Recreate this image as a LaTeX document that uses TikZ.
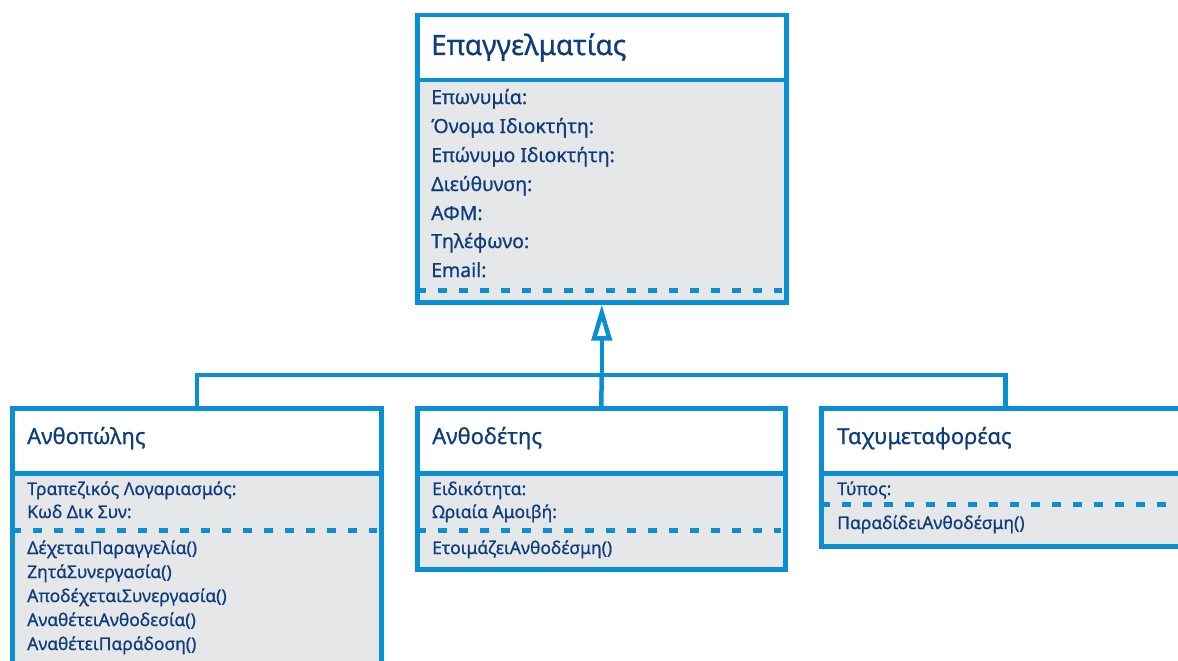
\documentclass[tikz,border=0pt]{standalone}
\usepackage{fontspec}
\setmainfont{Noto Sans}[BoldFont={Noto Sans}, BoldFeatures={FakeBold=0.8}]
\usetikzlibrary{arrows.meta}
\definecolor{umlblue}{HTML}{0A8FD4}
\definecolor{umltext}{HTML}{0D3D7D}
\definecolor{umlfill}{HTML}{E6E7E9}
\begin{document}
\begin{tikzpicture}[x=1pt,y=-1pt,
  hdr/.style={draw=umlblue, line width=4.5pt, fill=white, anchor=north west, inner sep=0pt},
  bdy/.style={draw=umlblue, line width=4.5pt, fill=umlfill, anchor=north west, inner sep=0pt},
  sepline/.style={draw=umlblue, line width=5pt, dash pattern=on 9pt off 12pt},
  conn/.style={draw=umlblue, line width=4.5pt},
  bigttl/.style={text=umltext, anchor=base west, inner sep=0pt, font=\fontsize{28}{30}\selectfont\bfseries},
  bigtxt/.style={text=umltext, anchor=base west, inner sep=0pt, font=\fontsize{19.5}{22}\selectfont\bfseries},
  ttl/.style={text=umltext, anchor=base west, inner sep=0pt, font=\fontsize{22}{24}\selectfont\bfseries},
  txt/.style={text=umltext, anchor=base west, inner sep=0pt, font=\fontsize{17.5}{19}\selectfont\bfseries}]
\useasboundingbox (0,0) rectangle (1178,661);
\clip (0,0) rectangle (1178,661);
\fill[white] (0,0) rectangle (1178,661);
% top class
\node[bdy, minimum width=369pt, minimum height=222pt] (Pb) at (415,78) {};
\node[hdr, minimum width=369pt, minimum height=65pt] (Ph) at (415,13) {};
\coordinate (PdL) at (417,290);
\coordinate (PdR) at (782,290);
\draw[sepline] (PdL) -- (PdR);
\node[bigttl] (Pt) at (431,55) {Επαγγελματίας};
\node[bigtxt] (Pa1) at (431,104) {Επωνυμία:};
\node[bigtxt] (Pa2) at (431,133) {Όνομα Ιδιοκτήτη:};
\node[bigtxt] (Pa3) at (431,162) {Επώνυμο Ιδιοκτήτη:};
\node[bigtxt] (Pa4) at (431,191) {Διεύθυνση:};
\node[bigtxt] (Pa5) at (431,220) {ΑΦΜ:};
\node[bigtxt] (Pa6) at (431,248) {Τηλέφωνο:};
\node[bigtxt] (Pa7) at (431,277) {Email:};
% left class
\node[bdy, minimum width=369pt, minimum height=240pt] (Lb) at (10,471) {};
\node[hdr, minimum width=369pt, minimum height=65pt] (Lh) at (10,406) {};
\coordinate (LdL) at (12,530);
\coordinate (LdR) at (377,530);
\draw[sepline] (LdL) -- (LdR);
\node[ttl] (Lt) at (27,444) {Ανθοπώλης};
\node[txt] (La1) at (27,495) {Τραπεζικός Λογαριασμός:};
\node[txt] (La2) at (27,518) {Κωδ Δικ Συν:};
\node[txt] (Lm1) at (27,554) {ΔέχεταιΠαραγγελία()};
\node[txt] (Lm2) at (27,578) {ΖητάΣυνεργασία()};
\node[txt] (Lm3) at (27,602) {ΑποδέχεταιΣυνεργασία()};
\node[txt] (Lm4) at (27,626) {ΑναθέτειΑνθοδεσία()};
\node[txt] (Lm5) at (27,650) {ΑναθέτειΠαράδοση()};
% middle class
\node[bdy, minimum width=368pt, minimum height=96pt] (Mb) at (415,471) {};
\node[hdr, minimum width=368pt, minimum height=65pt] (Mh) at (415,406) {};
\coordinate (MdL) at (417,530);
\coordinate (MdR) at (781,530);
\draw[sepline] (MdL) -- (MdR);
\node[ttl] (Mt) at (432,444) {Ανθοδέτης};
\node[txt] (Ma1) at (432,495) {Ειδικότητα:};
\node[txt] (Ma2) at (432,518) {Ωριαία Αμοιβή:};
\node[txt] (Mm1) at (432,554) {ΕτοιμάζειΑνθοδέσμη()};
% right class
\node[bdy, minimum width=368pt, minimum height=73pt] (Rb) at (819,471) {};
\node[hdr, minimum width=368pt, minimum height=65pt] (Rh) at (819,406) {};
\coordinate (RdL) at (821,504);
\coordinate (RdR) at (1185,504);
\draw[sepline] (RdL) -- (RdR);
\node[ttl] (Rt) at (837,444) {Ταχυμεταφορέας};
\node[txt] (Ra1) at (837,495) {Τύπος:};
\node[txt] (Rm1) at (837,529) {ΠαραδίδειΑνθοδέσμη()};
% generalization
\coordinate (J) at (Pb.south |- 0,375);
\draw[conn] (Lh.north) |- (J) -| (Rh.north);
\draw[conn] (Mh.north) -- (J);
\draw[conn, -{Triangle[open, length=36pt, width=20pt]}] (J) -- (Pb.south);
\end{tikzpicture}
\end{document}
